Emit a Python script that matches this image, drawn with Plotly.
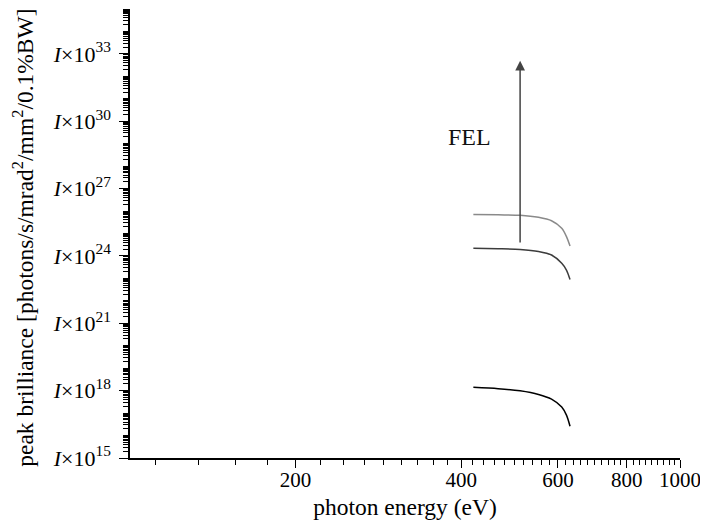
import numpy as np
import plotly.graph_objects as go

# ---- data ----
energy_ev = [421, 467, 512, 553, 584, 609.5, 622, 631]
fel_upper = [7.1e25, 6.8e25, 6.5e25, 5.25e25, 3.7e25, 1.7e25, 7.1e24, 2.75e24]
fel_lower = [2.2e24, 2.1e24, 1.95e24, 1.58e24, 1.1e24, 4.7e23, 2.3e23, 8.9e22]
storage_ring = [1.41e18, 1.23e18, 9.8e17, 6.8e17, 4.2e17, 1.86e17, 7.9e16, 2.6e16]

arrow_energy = 512
arrow_brilliance = [3.4e24, 5.0e32]
fel_label_pos = (415, 2.0e29)

x_major = [200, 400, 600, 800, 1000]
x_minor = ([200 - 200 / 9 * k for k in range(1, 5)]
           + [200 + 200 / 9 * k for k in range(1, 9)]
           + [400 + 20 * k for k in range(1, 10)]
           + [600 + 20 * k for k in range(1, 10)]
           + [800 + 200 / 9 * k for k in range(1, 9)])

y_exponents = list(range(15, 36))
y_label_exponents = [15, 18, 21, 24, 27, 30, 33]

SERIF = "Liberation Serif, Times New Roman, serif"
FS = 21
FT = 23.5

fig = go.Figure()
for ys, col in [(fel_upper, "#8a8a8a"), (fel_lower, "#3c3c3c"), (storage_ring, "#000000")]:
    fig.add_trace(go.Scatter(x=energy_ev, y=ys, mode="lines",
                             line=dict(color=col, width=1.5, shape="spline", smoothing=0.8),
                             showlegend=False, hoverinfo="skip"))

y_tickvals = [10.0 ** e for e in y_label_exponents]
y_ticktext = ["<i>I</i>×10<sup>%d</sup>" % e for e in y_label_exponents]
y_minor = ([10.0 ** e for e in y_exponents if e not in y_label_exponents]
           + [m * 10.0 ** e for e in y_exponents[:-1] for m in range(2, 10)])

fig.add_annotation(x=np.log10(arrow_energy), y=np.log10(arrow_brilliance[1]),
                   ax=np.log10(arrow_energy), ay=np.log10(arrow_brilliance[0]),
                   xref="x", yref="y", axref="x", ayref="y",
                   showarrow=True, arrowhead=2, arrowsize=1.3, arrowwidth=1.5,
                   arrowcolor="#444444", text="")
fig.add_annotation(x=np.log10(fel_label_pos[0]), y=np.log10(fel_label_pos[1]),
                   xref="x", yref="y", text="FEL", showarrow=False,
                   font=dict(family=SERIF, size=24, color="#111111"))
# y-axis title
fig.add_annotation(xref="paper", yref="paper", x=-0.196, y=0.491,
                   xanchor="center", yanchor="middle", textangle=-90, showarrow=False,
                   text="peak brilliance [photons/s/mrad<sup>2</sup>/mm<sup>2</sup>/0.1%BW]",
                   font=dict(family=SERIF, size=FT, color="#000000"))

fig.update_layout(
    width=700, height=519,
    margin=dict(l=122, r=28, t=1, b=69),
    plot_bgcolor="white", paper_bgcolor="white",
    font=dict(family=SERIF, size=FS, color="#000000"),
    xaxis=dict(type="log", range=[2, 3], showgrid=False, zeroline=False,
               showline=True, linecolor="black", linewidth=1.5,
               ticks="outside", ticklen=8, tickwidth=1, tickcolor="black",
               ticklabelstandoff=-6,
               tickvals=x_major, ticktext=[str(v) for v in x_major],
               tickfont=dict(family=SERIF, size=FS),
               minor=dict(tickvals=x_minor, ticks="outside", ticklen=5, tickwidth=1, tickcolor="black"),
               title=dict(text="photon energy (eV)", standoff=8,
                          font=dict(family=SERIF, size=FT))),
    yaxis=dict(type="log", range=[15, 35], showgrid=False, zeroline=False,
               showline=True, linecolor="black", linewidth=1.5,
               ticks="outside", ticklen=9, tickwidth=1, tickcolor="black",
               ticklabelstandoff=4,
               tickvals=y_tickvals, ticktext=y_ticktext,
               tickfont=dict(family=SERIF, size=22),
               minor=dict(tickvals=y_minor, ticks="outside", ticklen=5, tickwidth=1, tickcolor="black")),
)

fig.write_html("out.html")
